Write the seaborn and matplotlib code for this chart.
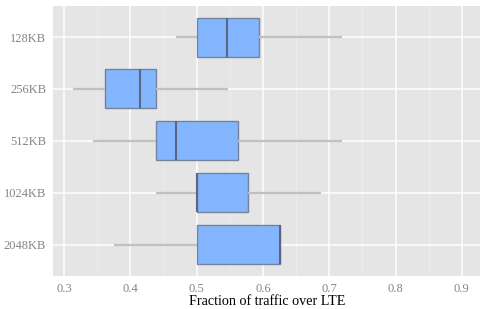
import numpy as np
import pandas as pd
import matplotlib
matplotlib.use("Agg")
import matplotlib.pyplot as plt
import seaborn as sns

# five-number summaries (min, q1, median, q3, max)
sizes = ["128KB", "256KB", "512KB", "1024KB", "2048KB"]
v128 = [0.469, 0.500, 0.546, 0.594, 0.719]
v256 = [0.313, 0.361, 0.414, 0.438, 0.547]
v512 = [0.344, 0.438, 0.469, 0.563, 0.719]
v1024 = [0.438, 0.500, 0.500, 0.578, 0.688]
v2048 = [0.375, 0.500, 0.625, 0.625, 0.625]

rows = []
for s, vals in zip(sizes, [v128, v256, v512, v1024, v2048]):
    for v in vals:
        rows.append({"size": s, "frac": v})
df = pd.DataFrame(rows)

sns.set_style("darkgrid")
plt.rcParams["font.family"] = ["Liberation Serif", "DejaVu Serif"]

fig = plt.figure(figsize=(4.81, 3.09), dpi=100)
ax = fig.add_axes([0.110, 0.107, 0.890, 0.874])
ax.set_facecolor("#E5E5E5")

sns.boxplot(data=df, x="frac", y="size", order=sizes, orient="h", ax=ax,
            width=0.75, whis=np.inf, showcaps=False, color="#84B5FF",
            linewidth=1.0,
            boxprops=dict(facecolor="#84B5FF", edgecolor="#74849C"),
            whiskerprops=dict(color="#C0C0C0", linewidth=1.6),
            medianprops=dict(color="#5A6780", linewidth=1.5))

ax.set_xlim(0.283, 0.929)
ax.set_ylim(4.6, -0.6)
ax.set_xticks([0.3, 0.4, 0.5, 0.6, 0.7, 0.8, 0.9])
ax.set_xticklabels(["0.3", "0.4", "0.5", "0.6", "0.7", "0.8", "0.9"])
ax.set_xticks([0.35, 0.45, 0.55, 0.65, 0.75, 0.85], minor=True)
ax.grid(True, which="major", color="white", linewidth=1.1)
ax.grid(True, which="minor", axis="x", color="#EEEEEE", linewidth=0.6)
ax.set_axisbelow(True)
for sp in ax.spines.values():
    sp.set_visible(False)
ax.tick_params(axis="both", which="major", length=3, width=0.8, color="#7F7F7F",
               labelcolor="#858585", labelsize=9, pad=2)
ax.tick_params(axis="x", which="minor", length=0)
ax.set_xlabel("Fraction of traffic over LTE", fontsize=10.2, color="black", labelpad=0)
ax.set_ylabel("")

fig.savefig("out.png", dpi=100)
